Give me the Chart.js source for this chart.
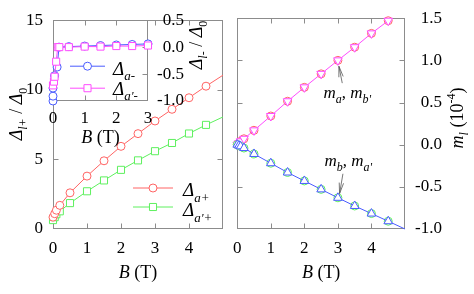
<!DOCTYPE html>
<html>
<head>
<meta charset="utf-8">
<script src="https://cdn.jsdelivr.net/npm/chart.js@4.4.0/dist/chart.umd.min.js"></script>
<style>
    body { margin: 0; background: #fff; }
    #wrap { position: relative; width: 474px; height: 294px; overflow: hidden; }
    #wrap canvas { position: absolute; top: 0; }
</style>
</head>
<body>
<div id="wrap">
    <canvas id="leftCanvas" width="232" height="294" style="left:0"></canvas>
    <canvas id="insetCanvas" width="232" height="294" style="left:0"></canvas>
    <canvas id="rightCanvas" width="250" height="294" style="left:224px"></canvas>
</div>
<script>
// Left panel: upper gaps Delta_l+ / Delta_0 vs B (last point is where the line meets the frame)
const bPlus = [0, 0.05, 0.1, 0.2, 0.5, 1, 1.5, 2, 2.5, 3, 3.5, 4, 4.5, 5];
const deltaAPlus = [0.85, 1.1, 1.35, 1.7, 2.6, 3.8, 4.9, 5.94, 6.85, 7.76, 8.6, 9.43, 10.26, 11.05];
const deltaAPrimePlus = [0.64, 0.85, 1.06, 1.27, 1.86, 2.71, 3.49, 4.25, 4.93, 5.59, 6.18, 6.86, 7.48, 8.05];

// Inset: lower gaps Delta_l- / Delta_0 vs B
const bMinusA = [0, 0, 0, 0.05, 0.13, 0.19, 0.5, 1, 1.5, 2, 2.5, 3];
const deltaAMinus = [-1.0, -0.91, -0.76, -0.53, -0.37, 0.0, 0.01, 0.02, 0.03, 0.04, 0.05, 0.06];
const bMinusAPrime = [0, 0.03, 0.05, 0.1, 0.15, 0.2, 0.5, 1, 1.5, 2, 2.5, 3];
const deltaAPrimeMinus = [-0.71, -0.64, -0.55, -0.27, 0.0, 0.0, 0.0, 0.01, 0.01, 0.02, 0.02, 0.03];

// Right panel: magnetisation m_l (1e-4) vs B
const bRight = [0, 0.05, 0.1, 0.2, 0.5, 1, 1.5, 2, 2.5, 3, 3.5, 4, 4.5];
const mA = [0, 0.02, 0.04, 0.07, 0.17, 0.34, 0.515, 0.68, 0.84, 1.0, 1.156, 1.32, 1.47];
const mBPrime = [0, 0.02, 0.04, 0.07, 0.17, 0.34, 0.515, 0.68, 0.84, 1.0, 1.156, 1.32, 1.47];
const bRightFit = [0, 0.05, 0.1, 0.2, 0.5, 1, 1.5, 2, 2.5, 3, 3.5, 4, 4.5, 5];
const mB = [0, -0.01, -0.02, -0.04, -0.11, -0.22, -0.33, -0.43, -0.53, -0.63, -0.727, -0.817, -0.908, -1.0];
const mAPrime = [0, -0.01, -0.02, -0.04, -0.11, -0.22, -0.33, -0.43, -0.53, -0.63, -0.727, -0.817, -0.908];

const FONT = "'Liberation Serif', 'Times New Roman', serif";
const RED = '#ff6464';
const GREEN = '#5ef05e';
const BLUE = '#4a5cff';
const MAGENTA = '#ff4cff';
const FRAME = '#8c8c8c';

Chart.defaults.font.family = FONT;
Chart.defaults.font.size = 17;
Chart.defaults.color = '#000';
Chart.defaults.animation = false;
Chart.defaults.responsive = false;
Chart.defaults.plugins.legend.display = false;
Chart.defaults.plugins.tooltip.enabled = false;

function xy(xs, ys) {
    return xs.map((x, i) => ({ x: x, y: ys[i] }));
}

function series(xs, ys, color, style, radius, extra) {
    return Object.assign({
        data: xy(xs, ys),
        showLine: true,
        borderColor: color,
        borderWidth: 1,
        tension: 0,
        pointStyle: style,
        pointRadius: radius,
        pointBorderWidth: 1,
        pointBorderColor: color,
        pointBackgroundColor: '#fff',
        clip: false
    }, extra || {});
}

function axis(pos, min, max, step, size, padding, fmt, align) {
    return {
        type: 'linear',
        position: pos,
        min: min,
        max: max,
        grid: { display: false, drawTicks: false },
        border: { display: false },
        ticks: { stepSize: step, padding: padding, color: '#000', callback: fmt, crossAlign: align || 'near' },
        afterFit: s => {
            if (s.isHorizontal()) s.height = size; else s.width = size;
        }
    };
}

// Text with italic parts, subscripts and superscripts
function rich(ctx, parts, x, y, rotate, align) {
    const font = p => (p.i ? 'italic ' : '') + (p.s || 18) + 'px ' + FONT;
    ctx.save();
    ctx.translate(x, y);
    if (rotate) ctx.rotate(rotate);
    ctx.fillStyle = '#000';
    ctx.textBaseline = 'alphabetic';
    ctx.textAlign = 'left';
    let w = 0;
    parts.forEach(p => { ctx.font = font(p); w += ctx.measureText(p.t).width; });
    let cx = align === 'left' ? 0 : -w / 2;
    parts.forEach(p => {
        ctx.font = font(p);
        ctx.fillText(p.t, cx, p.dy || 0);
        cx += ctx.measureText(p.t).width;
    });
    ctx.restore();
}

function arrow(ctx, x1, y1, x2, y2) {
    const ang = Math.atan2(y2 - y1, x2 - x1);
    const h = 11, spread = 0.2;
    ctx.save();
    ctx.strokeStyle = '#555';
    ctx.lineWidth = 0.8;
    ctx.beginPath();
    ctx.moveTo(x1, y1);
    ctx.lineTo(x2, y2);
    ctx.moveTo(x2 - h * Math.cos(ang - spread), y2 - h * Math.sin(ang - spread));
    ctx.lineTo(x2, y2);
    ctx.lineTo(x2 - h * Math.cos(ang + spread), y2 - h * Math.sin(ang + spread));
    ctx.stroke();
    ctx.restore();
}

function legendSample(ctx, x1, x2, y, color, style, radius) {
    ctx.save();
    ctx.strokeStyle = color;
    ctx.lineWidth = 1;
    ctx.beginPath();
    ctx.moveTo(x1, y);
    ctx.lineTo(x2, y);
    ctx.stroke();
    ctx.fillStyle = '#fff';
    Chart.helpers.drawPoint(ctx, { pointStyle: style, radius: radius, rotation: 0, borderWidth: 1 }, (x1 + x2) / 2, y);
    ctx.restore();
}

// Grey frame around the plot area with inward tick marks on all four sides
const framePlugin = {
    id: 'frame',
    beforeDatasetsDraw(chart, args, opts) {
        const { ctx, chartArea: a } = chart;
        const L = Math.round(a.left) + 0.5, R = Math.round(a.right) - 0.5;
        const T = Math.round(a.top) + 0.5, B = Math.round(a.bottom) - 0.5;
        ctx.save();
        if (opts.fill) {
            ctx.fillStyle = opts.fill;
            ctx.fillRect(a.left, a.top, a.right - a.left, a.bottom - a.top);
        }
        ctx.strokeStyle = FRAME;
        ctx.lineWidth = 1;
        ctx.strokeRect(L, T, R - L, B - T);
        ctx.beginPath();
        Object.values(chart.scales).forEach(s => {
            s.ticks.forEach(t => {
                if (t.value <= s.min || t.value >= s.max) return;
                const p = Math.round(s.getPixelForValue(t.value)) + 0.5;
                if (s.isHorizontal()) {
                    ctx.moveTo(p, B); ctx.lineTo(p, B - 5);
                    ctx.moveTo(p, T); ctx.lineTo(p, T + 5);
                } else {
                    ctx.moveTo(L, p); ctx.lineTo(L + 5, p);
                    ctx.moveTo(R, p); ctx.lineTo(R - 5, p);
                }
            });
        });
        ctx.stroke();
        ctx.restore();
    }
};

const bTitle = [{ t: 'B', i: 1 }, { t: ' (T)' }];
const dec1 = v => v.toFixed(1);
const hideFive = v => (v === 5 ? '' : v);

// ---- left panel ----
new Chart(document.getElementById('leftCanvas'), {
    type: 'scatter',
    data: {
        datasets: [
            series(bPlus, deltaAPlus, RED, 'circle', bPlus.map(b => (b > 4.5 ? 0 : 4))),
            series(bPlus, deltaAPrimePlus, GREEN, 'rect', bPlus.map(b => (b > 4.5 ? 0 : 5)))
        ]
    },
    options: {
        layout: { padding: { left: 0, top: 17, right: 4, bottom: 0 } },
        scales: {
            x: axis('bottom', 0, 5, 1, 65, 9, hideFive),
            y: axis('left', 0, 15, 5, 53, 10)
        },
        plugins: { frame: {} }
    },
    plugins: [framePlugin, {
        id: 'leftText',
        afterDraw(chart) {
            const { ctx, chartArea: a } = chart;
            rich(ctx, bTitle, (a.left + a.right) / 2, a.bottom + 49);
            rich(ctx, [{ t: 'Δ', i: 1 }, { t: 'l+', i: 1, s: 12, dy: 5 }, { t: ' / ' }, { t: 'Δ', i: 1 }, { t: '0', s: 12, dy: 5 }],
                a.left - 31, 114, -Math.PI / 2);
            legendSample(ctx, a.left + 80, a.left + 120, a.bottom - 41, RED, 'circle', 4);
            legendSample(ctx, a.left + 80, a.left + 120, a.bottom - 22, GREEN, 'rect', 5);
            rich(ctx, [{ t: 'Δ', i: 1, s: 19 }, { t: 'a+', i: 1, s: 13, dy: 6 }], a.left + 130, a.bottom - 33, 0, 'left');
            rich(ctx, [{ t: 'Δ', i: 1, s: 19 }, { t: "a'+", i: 1, s: 13, dy: 6 }], a.left + 130, a.bottom - 13, 0, 'left');
        }
    }]
});

// ---- inset ----
new Chart(document.getElementById('insetCanvas'), {
    type: 'scatter',
    data: {
        datasets: [
            series(bMinusAPrime, deltaAPrimeMinus, MAGENTA, 'rect', 5),
            series(bMinusA, deltaAMinus, BLUE, 'circle', 4)
        ]
    },
    options: {
        layout: { padding: { left: 53, top: 17, right: 48, bottom: 153 } },
        scales: {
            x: axis('bottom', 0, 3, 1, 40, 7),
            y: axis('right', -1, 0.5, 0.5, 36, 10, dec1, 'far')
        },
        plugins: { frame: { fill: '#fff' } }
    },
    plugins: [framePlugin, {
        id: 'insetText',
        afterDraw(chart) {
            const { ctx, chartArea: a } = chart;
            rich(ctx, bTitle, (a.left + a.right) / 2, a.bottom + 42);
            rich(ctx, [{ t: 'Δ', i: 1 }, { t: 'l-', i: 1, s: 12, dy: 5 }, { t: ' / ' }, { t: 'Δ', i: 1 }, { t: '0', s: 12, dy: 5 }],
                a.right + 54, 45, -Math.PI / 2);
            legendSample(ctx, a.left + 17, a.left + 52, a.top + 46, BLUE, 'circle', 4);
            legendSample(ctx, a.left + 17, a.left + 52, a.top + 68, MAGENTA, 'rect', 5);
            rich(ctx, [{ t: 'Δ', i: 1, s: 19 }, { t: 'a-', i: 1, s: 13, dy: 5 }], a.left + 60, a.top + 55, 0, 'left');
            rich(ctx, [{ t: 'Δ', i: 1, s: 19 }, { t: "a'-", i: 1, s: 13, dy: 5 }], a.left + 60, a.top + 75, 0, 'left');
        }
    }]
});

// ---- right panel ----
new Chart(document.getElementById('rightCanvas'), {
    type: 'scatter',
    data: {
        datasets: [
            series(bRightFit, mB, BLUE, 'triangle', bRightFit.map(b => (b > 4.5 ? 0 : 5))),
            series(bRight, mAPrime, GREEN, 'circle', 4, { showLine: false }),
            series(bRight, mBPrime, MAGENTA, 'triangle', 5, { pointRotation: 180 }),
            series(bRight, mA, RED, 'circle', 4, { showLine: false })
        ]
    },
    options: {
        layout: { padding: { left: 10, top: 17, right: 32, bottom: 0 } },
        scales: {
            x: axis('bottom', 0, 5, 1, 65, 9, hideFive),
            y: axis('right', -1, 1.5, 0.5, 37, 8, dec1, 'far')
        },
        plugins: { frame: {} }
    },
    plugins: [framePlugin, {
        id: 'rightText',
        afterDraw(chart) {
            const { ctx, chartArea: a, scales: { x, y } } = chart;
            rich(ctx, bTitle, (a.left + a.right) / 2, a.bottom + 49);
            rich(ctx, [{ t: 'm', i: 1 }, { t: 'l', i: 1, s: 12, dy: 5 }, { t: ' (10' }, { t: '-4', s: 12, dy: -8 }, { t: ')' }],
                a.right + 58, 118, -Math.PI / 2);
            rich(ctx, [{ t: 'm', i: 1, s: 17 }, { t: 'a', i: 1, s: 12, dy: 5 }, { t: ', ', s: 17 }, { t: 'm', i: 1, s: 17 }, { t: "b'", i: 1, s: 12, dy: 5 }],
                x.getPixelForValue(2.57), y.getPixelForValue(0.55), 0, 'left');
            arrow(ctx, x.getPixelForValue(3.13), y.getPixelForValue(0.73), x.getPixelForValue(3.03), y.getPixelForValue(0.93));
            rich(ctx, [{ t: 'm', i: 1, s: 17 }, { t: 'b', i: 1, s: 12, dy: 5 }, { t: ', ', s: 17 }, { t: 'm', i: 1, s: 17 }, { t: "a'", i: 1, s: 12, dy: 5 }],
                x.getPixelForValue(2.6), y.getPixelForValue(-0.25), 0, 'left');
            arrow(ctx, x.getPixelForValue(3.15), y.getPixelForValue(-0.345), x.getPixelForValue(3.05), y.getPixelForValue(-0.58));
        }
    }]
});
</script>
</body>
</html>
